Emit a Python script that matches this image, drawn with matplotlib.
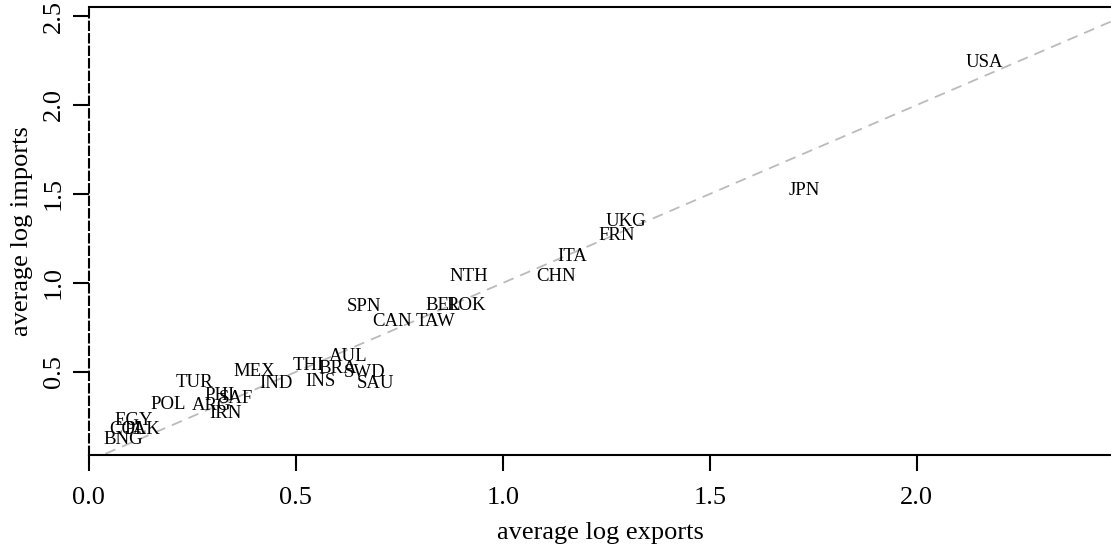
import numpy as np
import matplotlib
matplotlib.use('Agg')
import matplotlib.pyplot as plt

plt.rcParams['font.family'] = ['Liberation Serif', 'DejaVu Serif']

paises = ['USA', 'JPN', 'UKG', 'FRN', 'ITA', 'CHN', 'NTH', 'SPN', 'BEL', 'ROK',
          'CAN', 'TAW', 'AUL', 'THI', 'BRA', 'SWD', 'INS', 'SAU', 'MEX', 'IND',
          'TUR', 'PHI', 'SAF', 'ARG', 'IRN', 'POL', 'EGY', 'COL', 'PAK', 'BNG']
exportacoes = [2.164, 1.729, 1.297, 1.275, 1.167, 1.128, 0.918, 0.664, 0.855, 0.911,
               0.732, 0.838, 0.626, 0.531, 0.601, 0.667, 0.560, 0.693, 0.399, 0.452,
               0.254, 0.316, 0.355, 0.297, 0.329, 0.191, 0.109, 0.094, 0.130, 0.082]
importacoes = [2.236, 1.517, 1.343, 1.264, 1.146, 1.039, 1.039, 0.865, 0.871, 0.876,
               0.781, 0.781, 0.584, 0.534, 0.517, 0.494, 0.444, 0.433, 0.500, 0.433,
               0.438, 0.365, 0.348, 0.309, 0.264, 0.315, 0.225, 0.174, 0.174, 0.118]

fig = plt.figure(figsize=(11.11, 5.48), dpi=100)
ax = fig.add_axes([0.080, 0.170, 0.920, 0.817])

# linha y = x
ref = np.array([0, 3])
ax.plot(ref, ref, color='#bbbbbb', linestyle=(0, (6, 4)), linewidth=1.3)

for p, x, y in zip(paises, exportacoes, importacoes):
    ax.text(x, y, p, ha='center', va='center', fontsize=13.5)

ax.set_xlim(0, 2.469)
ax.set_ylim(0.034, 2.55)
ax.set_xticks([0.0, 0.5, 1.0, 1.5, 2.0])
ax.set_yticks([0.5, 1.0, 1.5, 2.0, 2.5])
ax.set_xticklabels(['0.0', '0.5', '1.0', '1.5', '2.0'])
ax.set_yticklabels(['0.5', '1.0', '1.5', '2.0', '2.5'], rotation=90, va='center')
ax.tick_params(direction='out', length=11.5, width=1.5, labelsize=19)
ax.tick_params(axis='x', pad=12)
ax.tick_params(axis='y', pad=6)
ax.set_xlabel('average log exports', fontsize=19, labelpad=9)
ax.set_ylabel('average log imports', fontsize=19, labelpad=7)

ax.spines['right'].set_visible(False)
for s in ['top', 'bottom']:
    ax.spines[s].set_linewidth(1.5)
ax.spines['left'].set_linewidth(1.5)
ax.spines['left'].set_linestyle((0, (4, 2)))

fig.savefig('out.png', dpi=100)
